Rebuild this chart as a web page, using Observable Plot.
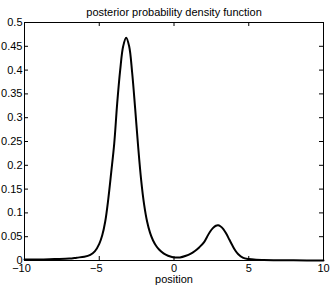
<!DOCTYPE html>
<html><head><meta charset="utf-8">
<script src="https://cdn.jsdelivr.net/npm/d3@7"></script>
<script src="https://cdn.jsdelivr.net/npm/@observablehq/plot@0.6"></script>
<style>body{margin:0;background:#fff} svg{display:block}</style>
</head><body><div id="chart"></div>
<script>
const positions = [-10,-9,-8,-7,-6.5,-6,-5.6,-5.3,-5.0,-4.8,-4.6,-4.4,-4.2,-4.0,-3.8,-3.6,-3.4,-3.2,-3.0,-2.8,-2.6,-2.4,-2.2,-2.0,-1.8,-1.6,-1.4,-1.2,-1.0,-0.7,-0.4,0,0.4,0.8,1.1,1.4,1.7,2.0,2.2,2.4,2.6,2.8,2.95,3.1,3.3,3.5,3.7,3.9,4.1,4.3,4.6,5.0,5.5,6,7,8,10];
const density = [0.002,0.002,0.003,0.004,0.006,0.008,0.012,0.019,0.035,0.053,0.082,0.128,0.185,0.245,0.33,0.40,0.45,0.468,0.45,0.395,0.32,0.24,0.17,0.118,0.082,0.058,0.042,0.031,0.023,0.015,0.010,0.0065,0.0065,0.010,0.014,0.020,0.028,0.038,0.049,0.060,0.068,0.073,0.074,0.072,0.066,0.056,0.044,0.032,0.021,0.013,0.006,0.003,0.0015,0.001,0.0005,0.0003,0.0002];
const xTicks = [-10,-5,0,5,10];
const yTicks = [0,0.05,0.1,0.15,0.2,0.25,0.3,0.35,0.4,0.45,0.5];
const titleText = "posterior probability density function";
const xLabelText = "position";

const data = positions.map((x, i) => ({x, y: density[i]}));
const negTicks = xTicks.filter(d => d < 0);
const posTicks = xTicks.filter(d => d >= 0);
const fmtX = d => d < 0 ? "\u2212" + Math.abs(d) : String(d);

const chart = Plot.plot({
  width: 332, height: 287,
  marginLeft: 24, marginRight: 9, marginTop: 22, marginBottom: 27,
  style: {fontFamily: "'Liberation Sans', Arial, Helvetica, sans-serif", fontSize: "11px", background: "white", color: "black"},
  x: {domain: [-10, 10]},
  y: {domain: [0, 0.5]},
  marks: [
    Plot.line(data, {x: "x", y: "y", stroke: "black", strokeWidth: 2, curve: "catmull-rom"}),
    Plot.frame({stroke: "black"}),
    Plot.tickX(xTicks, {x: d => d, stroke: "black", insetTop: 234}),
    Plot.tickX(xTicks, {x: d => d, stroke: "black", insetBottom: 234}),
    Plot.tickY(yTicks, {y: d => d, stroke: "black", insetLeft: 295}),
    Plot.tickY(yTicks, {y: d => d, stroke: "black", insetRight: 295}),
    Plot.axisX({ticks: posTicks, tickSize: 0, tickPadding: 4, tickFormat: fmtX, label: null, fill: "black"}),
    Plot.axisX({ticks: negTicks, tickSize: 0, tickPadding: 4, tickFormat: fmtX, label: null, dx: -3, fill: "black"}),
    Plot.axisY({ticks: yTicks, tickSize: 0, tickPadding: 2, tickFormat: d => String(d), label: null, fill: "black"}),
    Plot.text([titleText], {frameAnchor: "top", dy: -7, lineAnchor: "bottom", fill: "black"}),
    Plot.text([xLabelText], {frameAnchor: "bottom", dy: 15, lineAnchor: "top", fill: "black"})
  ]
});
document.getElementById("chart").appendChild(chart);
</script>
</body></html>
